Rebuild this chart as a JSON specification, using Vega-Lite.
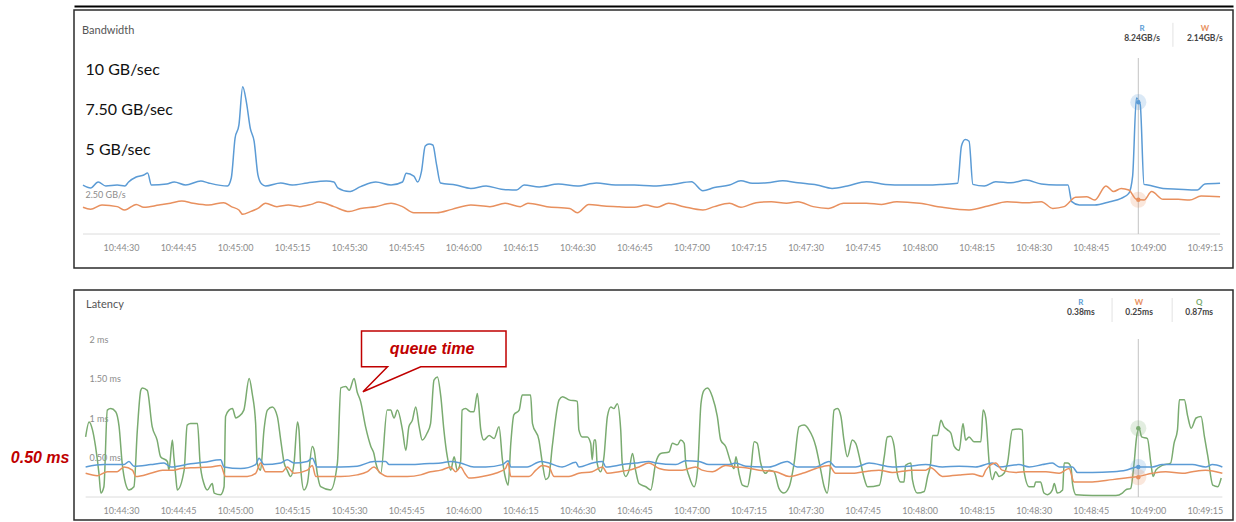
{
"$schema": "https://vega.github.io/schema/vega-lite/v6.json",
"background": "white",
"padding": {"left": 9, "top": 5, "right": 0, "bottom": 0},
"spacing": 20,
"resolve": {"scale": {"color": "independent"}},
"config": {
  "view": {"stroke": "#2b2b2b", "strokeWidth": 1.5},
  "axis": {"grid": false, "domain": false, "ticks": false, "tickSize": 0, "labelFont": "Lato", "labelColor": "#8c8c8c", "labelFontSize": 9, "labelOverlap": false, "labelBound": false}
},
"datasets": {
  "bandwidth": [
    {"t":38660000,"k":"R","v":3.06},{"t":38662000,"k":"R","v":2.88},{"t":38664000,"k":"R","v":3.25},{"t":38666000,"k":"R","v":3.0},
    {"t":38669000,"k":"R","v":3.06},{"t":38671000,"k":"R","v":3.0},{"t":38672000,"k":"R","v":3.25},{"t":38674000,"k":"R","v":3.56},
    {"t":38676000,"k":"R","v":3.69},{"t":38677000,"k":"R","v":3.81},{"t":38678000,"k":"R","v":3.06},{"t":38682000,"k":"R","v":3.12},
    {"t":38684000,"k":"R","v":3.25},{"t":38687000,"k":"R","v":3.06},{"t":38691000,"k":"R","v":3.31},{"t":38693000,"k":"R","v":3.19},
    {"t":38698000,"k":"R","v":3.0},{"t":38699000,"k":"R","v":3.5},{"t":38700000,"k":"R","v":6.0},{"t":38701000,"k":"R","v":6.8},
    {"t":38702000,"k":"R","v":9.2},{"t":38703000,"k":"R","v":8.2},{"t":38704000,"k":"R","v":6.6},{"t":38705000,"k":"R","v":5.8},
    {"t":38706000,"k":"R","v":3.7},{"t":38707000,"k":"R","v":3.12},{"t":38708000,"k":"R","v":3.0},{"t":38712000,"k":"R","v":3.19},
    {"t":38715000,"k":"R","v":3.06},{"t":38719000,"k":"R","v":3.19},{"t":38724000,"k":"R","v":3.31},{"t":38726000,"k":"R","v":3.25},
    {"t":38727000,"k":"R","v":2.88},{"t":38730000,"k":"R","v":2.65},{"t":38733000,"k":"R","v":2.96},{"t":38737000,"k":"R","v":3.25},
    {"t":38741000,"k":"R","v":3.06},{"t":38744000,"k":"R","v":3.25},{"t":38745000,"k":"R","v":3.79},{"t":38747000,"k":"R","v":3.62},
    {"t":38748000,"k":"R","v":3.25},{"t":38749000,"k":"R","v":3.9},{"t":38750000,"k":"R","v":5.5},{"t":38751000,"k":"R","v":5.62},
    {"t":38752000,"k":"R","v":5.56},{"t":38753000,"k":"R","v":4.3},{"t":38754000,"k":"R","v":3.19},{"t":38758000,"k":"R","v":3.06},
    {"t":38762000,"k":"R","v":2.85},{"t":38766000,"k":"R","v":3.0},{"t":38770000,"k":"R","v":2.8},{"t":38774000,"k":"R","v":2.75},
    {"t":38776000,"k":"R","v":3.06},{"t":38780000,"k":"R","v":2.94},{"t":38785000,"k":"R","v":3.12},{"t":38790000,"k":"R","v":3.0},
    {"t":38795000,"k":"R","v":3.19},{"t":38800000,"k":"R","v":3.06},{"t":38805000,"k":"R","v":3.06},{"t":38810000,"k":"R","v":3.0},
    {"t":38815000,"k":"R","v":3.1},{"t":38820000,"k":"R","v":3.27},{"t":38823000,"k":"R","v":2.71},{"t":38826000,"k":"R","v":2.9},
    {"t":38830000,"k":"R","v":3.06},{"t":38833000,"k":"R","v":3.33},{"t":38836000,"k":"R","v":3.17},{"t":38840000,"k":"R","v":3.2},
    {"t":38844000,"k":"R","v":3.33},{"t":38848000,"k":"R","v":3.2},{"t":38853000,"k":"R","v":3.06},{"t":38857000,"k":"R","v":2.85},
    {"t":38861000,"k":"R","v":3.0},{"t":38866000,"k":"R","v":3.27},{"t":38871000,"k":"R","v":3.1},{"t":38876000,"k":"R","v":3.06},
    {"t":38882000,"k":"R","v":3.06},{"t":38886000,"k":"R","v":3.1},{"t":38890000,"k":"R","v":3.17},{"t":38891000,"k":"R","v":5.5},
    {"t":38892000,"k":"R","v":5.9},{"t":38893000,"k":"R","v":5.8},{"t":38894000,"k":"R","v":3.1},{"t":38897000,"k":"R","v":3.0},
    {"t":38900000,"k":"R","v":3.27},{"t":38904000,"k":"R","v":3.2},{"t":38908000,"k":"R","v":3.37},{"t":38912000,"k":"R","v":3.12},
    {"t":38916000,"k":"R","v":3.06},{"t":38919000,"k":"R","v":3.06},{"t":38920000,"k":"R","v":2.02},{"t":38922000,"k":"R","v":1.81},
    {"t":38926000,"k":"R","v":1.81},{"t":38930000,"k":"R","v":2.02},{"t":38933000,"k":"R","v":2.23},{"t":38935000,"k":"R","v":2.54},
    {"t":38936000,"k":"R","v":3.6},{"t":38937000,"k":"R","v":8.5},{"t":38938000,"k":"R","v":8.1},{"t":38939000,"k":"R","v":3.1},
    {"t":38940000,"k":"R","v":3.06},{"t":38944000,"k":"R","v":2.85},{"t":38948000,"k":"R","v":2.8},{"t":38953000,"k":"R","v":2.75},
    {"t":38955000,"k":"R","v":3.12},{"t":38959000,"k":"R","v":3.17},
    {"t":38660000,"k":"W","v":1.67},{"t":38662000,"k":"W","v":1.54},{"t":38665000,"k":"W","v":1.81},{"t":38669000,"k":"W","v":1.71},
    {"t":38671000,"k":"W","v":1.5},{"t":38674000,"k":"W","v":1.85},{"t":38676000,"k":"W","v":1.67},{"t":38680000,"k":"W","v":1.81},
    {"t":38683000,"k":"W","v":1.92},{"t":38686000,"k":"W","v":2.06},{"t":38689000,"k":"W","v":1.92},{"t":38693000,"k":"W","v":1.81},
    {"t":38697000,"k":"W","v":1.96},{"t":38699000,"k":"W","v":1.71},{"t":38701000,"k":"W","v":1.5},{"t":38702000,"k":"W","v":1.23},
    {"t":38704000,"k":"W","v":1.4},{"t":38706000,"k":"W","v":1.6},{"t":38708000,"k":"W","v":1.92},{"t":38711000,"k":"W","v":1.71},
    {"t":38714000,"k":"W","v":1.81},{"t":38717000,"k":"W","v":1.71},{"t":38720000,"k":"W","v":1.85},{"t":38722000,"k":"W","v":2.0},
    {"t":38726000,"k":"W","v":1.71},{"t":38730000,"k":"W","v":1.4},{"t":38733000,"k":"W","v":1.6},{"t":38737000,"k":"W","v":1.71},
    {"t":38741000,"k":"W","v":1.92},{"t":38744000,"k":"W","v":1.71},{"t":38747000,"k":"W","v":1.33},{"t":38753000,"k":"W","v":1.33},
    {"t":38757000,"k":"W","v":1.54},{"t":38762000,"k":"W","v":1.81},{"t":38767000,"k":"W","v":1.71},{"t":38771000,"k":"W","v":1.92},
    {"t":38775000,"k":"W","v":1.71},{"t":38777000,"k":"W","v":1.92},{"t":38782000,"k":"W","v":1.71},{"t":38788000,"k":"W","v":1.6},
    {"t":38790000,"k":"W","v":1.33},{"t":38793000,"k":"W","v":1.85},{"t":38797000,"k":"W","v":1.75},{"t":38801000,"k":"W","v":1.7},
    {"t":38805000,"k":"W","v":1.67},{"t":38808000,"k":"W","v":1.81},{"t":38811000,"k":"W","v":1.67},{"t":38814000,"k":"W","v":1.92},
    {"t":38818000,"k":"W","v":1.71},{"t":38823000,"k":"W","v":1.5},{"t":38826000,"k":"W","v":1.71},{"t":38830000,"k":"W","v":1.92},
    {"t":38833000,"k":"W","v":1.67},{"t":38837000,"k":"W","v":1.96},{"t":38841000,"k":"W","v":2.02},{"t":38845000,"k":"W","v":1.92},
    {"t":38848000,"k":"W","v":2.02},{"t":38852000,"k":"W","v":1.71},{"t":38856000,"k":"W","v":1.6},{"t":38860000,"k":"W","v":1.92},
    {"t":38866000,"k":"W","v":1.92},{"t":38870000,"k":"W","v":1.85},{"t":38874000,"k":"W","v":2.02},{"t":38880000,"k":"W","v":1.92},
    {"t":38886000,"k":"W","v":1.67},{"t":38893000,"k":"W","v":1.5},{"t":38898000,"k":"W","v":1.75},{"t":38903000,"k":"W","v":2.02},
    {"t":38908000,"k":"W","v":1.95},{"t":38912000,"k":"W","v":2.02},{"t":38915000,"k":"W","v":1.6},{"t":38918000,"k":"W","v":1.71},
    {"t":38921000,"k":"W","v":2.29},{"t":38924000,"k":"W","v":2.33},{"t":38926000,"k":"W","v":2.12},{"t":38929000,"k":"W","v":3.0},
    {"t":38931000,"k":"W","v":2.65},{"t":38933000,"k":"W","v":2.85},{"t":38935000,"k":"W","v":2.75},{"t":38937000,"k":"W","v":2.17},
    {"t":38939000,"k":"W","v":2.12},{"t":38941000,"k":"W","v":2.65},{"t":38944000,"k":"W","v":2.17},{"t":38948000,"k":"W","v":2.17},
    {"t":38951000,"k":"W","v":2.12},{"t":38954000,"k":"W","v":2.37},{"t":38959000,"k":"W","v":2.33}
  ],
  "latency": [
    {"t":38660700,"k":"Q","v":0.76},{"t":38661600,"k":"Q","v":0.95},{"t":38662500,"k":"Q","v":0.85},{"t":38663300,"k":"Q","v":0.64},
    {"t":38664200,"k":"Q","v":0.30},{"t":38664700,"k":"Q","v":0.05},{"t":38665500,"k":"Q","v":0.13},{"t":38666400,"k":"Q","v":1.10},
    {"t":38667300,"k":"Q","v":1.12},{"t":38668600,"k":"Q","v":1.08},{"t":38669500,"k":"Q","v":0.89},{"t":38670300,"k":"Q","v":0.43},
    {"t":38671200,"k":"Q","v":0.17},{"t":38672100,"k":"Q","v":0.09},{"t":38673400,"k":"Q","v":0.13},{"t":38674300,"k":"Q","v":0.85},
    {"t":38675200,"k":"Q","v":1.35},{"t":38675600,"k":"Q","v":1.38},{"t":38676900,"k":"Q","v":1.35},{"t":38678200,"k":"Q","v":0.89},
    {"t":38679500,"k":"Q","v":0.72},{"t":38680400,"k":"Q","v":0.51},{"t":38682200,"k":"Q","v":0.45},{"t":38682600,"k":"Q","v":0.34},
    {"t":38683500,"k":"Q","v":0.72},{"t":38683900,"k":"Q","v":0.51},{"t":38684400,"k":"Q","v":0.26},{"t":38684800,"k":"Q","v":0.09},
    {"t":38686600,"k":"Q","v":0.34},{"t":38687400,"k":"Q","v":0.91},{"t":38688300,"k":"Q","v":0.93},{"t":38690100,"k":"Q","v":0.93},
    {"t":38690800,"k":"Q","v":0.43},{"t":38691800,"k":"Q","v":0.17},{"t":38692700,"k":"Q","v":0.09},{"t":38694000,"k":"Q","v":0.17},
    {"t":38694500,"k":"Q","v":0.05},{"t":38696200,"k":"Q","v":0.03},{"t":38697100,"k":"Q","v":0.13},{"t":38697500,"k":"Q","v":1.02},
    {"t":38698400,"k":"Q","v":1.10},{"t":38699300,"k":"Q","v":1.12},{"t":38700200,"k":"Q","v":1.00},{"t":38701000,"k":"Q","v":1.02},
    {"t":38702300,"k":"Q","v":1.10},{"t":38703700,"k":"Q","v":1.50},{"t":38704500,"k":"Q","v":1.31},{"t":38705400,"k":"Q","v":0.93},
    {"t":38705800,"k":"Q","v":0.43},{"t":38706700,"k":"Q","v":0.34},{"t":38707600,"k":"Q","v":0.85},{"t":38708500,"k":"Q","v":1.10},
    {"t":38709800,"k":"Q","v":1.14},{"t":38711100,"k":"Q","v":1.02},{"t":38712000,"k":"Q","v":0.72},{"t":38712900,"k":"Q","v":0.43},
    {"t":38713700,"k":"Q","v":0.34},{"t":38714600,"k":"Q","v":0.26},{"t":38715500,"k":"Q","v":0.43},{"t":38716400,"k":"Q","v":0.95},
    {"t":38716800,"k":"Q","v":0.85},{"t":38717300,"k":"Q","v":0.34},{"t":38718100,"k":"Q","v":0.09},{"t":38719000,"k":"Q","v":0.17},
    {"t":38720300,"k":"Q","v":0.64},{"t":38720800,"k":"Q","v":0.59},{"t":38721600,"k":"Q","v":0.30},{"t":38722500,"k":"Q","v":0.13},
    {"t":38725100,"k":"Q","v":0.09},{"t":38726900,"k":"Q","v":0.43},{"t":38727800,"k":"Q","v":1.38},{"t":38729100,"k":"Q","v":1.40},
    {"t":38730000,"k":"Q","v":1.35},{"t":38731300,"k":"Q","v":1.50},{"t":38732100,"k":"Q","v":1.33},{"t":38733000,"k":"Q","v":1.21},
    {"t":38734300,"k":"Q","v":0.89},{"t":38735700,"k":"Q","v":0.64},{"t":38736500,"k":"Q","v":0.55},{"t":38737000,"k":"Q","v":0.43},
    {"t":38738300,"k":"Q","v":0.30},{"t":38740000,"k":"Q","v":1.10},{"t":38740900,"k":"Q","v":1.10},{"t":38741800,"k":"Q","v":1.00},
    {"t":38742700,"k":"Q","v":1.10},{"t":38744000,"k":"Q","v":0.85},{"t":38744900,"k":"Q","v":0.59},{"t":38745700,"k":"Q","v":0.89},
    {"t":38746600,"k":"Q","v":0.97},{"t":38747500,"k":"Q","v":1.14},{"t":38748400,"k":"Q","v":0.89},{"t":38749200,"k":"Q","v":0.72},
    {"t":38750500,"k":"Q","v":0.81},{"t":38751400,"k":"Q","v":0.93},{"t":38752300,"k":"Q","v":1.48},{"t":38753200,"k":"Q","v":1.52},
    {"t":38754100,"k":"Q","v":1.27},{"t":38754900,"k":"Q","v":0.85},{"t":38755800,"k":"Q","v":0.51},{"t":38756700,"k":"Q","v":0.34},
    {"t":38757600,"k":"Q","v":0.51},{"t":38758400,"k":"Q","v":0.34},{"t":38759300,"k":"Q","v":0.45},{"t":38759700,"k":"Q","v":1.10},
    {"t":38760600,"k":"Q","v":1.12},{"t":38761900,"k":"Q","v":1.08},{"t":38762800,"k":"Q","v":1.08},{"t":38763700,"k":"Q","v":1.31},
    {"t":38764600,"k":"Q","v":0.85},{"t":38765400,"k":"Q","v":0.72},{"t":38766800,"k":"Q","v":0.78},{"t":38768100,"k":"Q","v":0.74},
    {"t":38769400,"k":"Q","v":0.89},{"t":38770300,"k":"Q","v":0.47},{"t":38771200,"k":"Q","v":0.22},{"t":38771800,"k":"Q","v":0.15},
    {"t":38772500,"k":"Q","v":0.68},{"t":38773300,"k":"Q","v":1.04},{"t":38774700,"k":"Q","v":1.10},{"t":38775500,"k":"Q","v":1.29},
    {"t":38777700,"k":"Q","v":1.29},{"t":38778200,"k":"Q","v":0.93},{"t":38779900,"k":"Q","v":0.72},{"t":38780800,"k":"Q","v":0.43},
    {"t":38781700,"k":"Q","v":0.22},{"t":38782500,"k":"Q","v":0.26},{"t":38783400,"k":"Q","v":0.64},{"t":38785200,"k":"Q","v":1.23},
    {"t":38786100,"k":"Q","v":1.27},{"t":38787800,"k":"Q","v":1.23},{"t":38790000,"k":"Q","v":1.21},{"t":38790400,"k":"Q","v":0.85},
    {"t":38791300,"k":"Q","v":0.76},{"t":38792600,"k":"Q","v":0.76},{"t":38793500,"k":"Q","v":0.68},{"t":38793900,"k":"Q","v":0.47},
    {"t":38794400,"k":"Q","v":0.72},{"t":38794800,"k":"Q","v":0.72},{"t":38795200,"k":"Q","v":0.43},{"t":38796100,"k":"Q","v":0.32},
    {"t":38797000,"k":"Q","v":0.51},{"t":38797900,"k":"Q","v":1.02},{"t":38798800,"k":"Q","v":1.14},{"t":38799600,"k":"Q","v":1.12},
    {"t":38800500,"k":"Q","v":1.18},{"t":38801400,"k":"Q","v":0.85},{"t":38801800,"k":"Q","v":0.43},{"t":38802700,"k":"Q","v":0.26},
    {"t":38803600,"k":"Q","v":0.34},{"t":38804500,"k":"Q","v":0.55},{"t":38805300,"k":"Q","v":0.34},{"t":38806200,"k":"Q","v":0.17},
    {"t":38808000,"k":"Q","v":0.13},{"t":38809300,"k":"Q","v":0.09},{"t":38810600,"k":"Q","v":0.43},{"t":38811900,"k":"Q","v":0.55},
    {"t":38814100,"k":"Q","v":0.57},{"t":38815000,"k":"Q","v":0.68},{"t":38816300,"k":"Q","v":0.66},{"t":38817200,"k":"Q","v":0.72},
    {"t":38818100,"k":"Q","v":0.68},{"t":38818500,"k":"Q","v":0.43},{"t":38819400,"k":"Q","v":0.26},{"t":38820700,"k":"Q","v":0.13},
    {"t":38821600,"k":"Q","v":0.34},{"t":38822500,"k":"Q","v":1.18},{"t":38823300,"k":"Q","v":1.35},{"t":38824200,"k":"Q","v":1.38},
    {"t":38825500,"k":"Q","v":1.27},{"t":38826800,"k":"Q","v":1.02},{"t":38827700,"k":"Q","v":0.72},{"t":38829000,"k":"Q","v":0.64},
    {"t":38830400,"k":"Q","v":0.43},{"t":38831200,"k":"Q","v":0.36},{"t":38831700,"k":"Q","v":0.51},{"t":38832500,"k":"Q","v":0.30},
    {"t":38833400,"k":"Q","v":0.15},{"t":38834700,"k":"Q","v":0.13},{"t":38835600,"k":"Q","v":0.34},{"t":38836500,"k":"Q","v":0.70},
    {"t":38837300,"k":"Q","v":0.68},{"t":38838200,"k":"Q","v":0.43},{"t":38839500,"k":"Q","v":0.30},{"t":38840400,"k":"Q","v":0.34},
    {"t":38841700,"k":"Q","v":0.32},{"t":38843000,"k":"Q","v":0.11},{"t":38844300,"k":"Q","v":0.05},{"t":38845700,"k":"Q","v":0.13},
    {"t":38847000,"k":"Q","v":0.43},{"t":38848300,"k":"Q","v":0.89},{"t":38849600,"k":"Q","v":0.91},{"t":38850900,"k":"Q","v":0.85},
    {"t":38852700,"k":"Q","v":0.64},{"t":38854000,"k":"Q","v":0.34},{"t":38854900,"k":"Q","v":0.13},{"t":38855700,"k":"Q","v":0.05},
    {"t":38856600,"k":"Q","v":0.43},{"t":38857500,"k":"Q","v":1.10},{"t":38858400,"k":"Q","v":1.12},{"t":38859300,"k":"Q","v":1.02},
    {"t":38860100,"k":"Q","v":0.72},{"t":38861000,"k":"Q","v":0.51},{"t":38862300,"k":"Q","v":0.72},{"t":38863200,"k":"Q","v":0.68},
    {"t":38864500,"k":"Q","v":0.43},{"t":38865400,"k":"Q","v":0.24},{"t":38866300,"k":"Q","v":0.13},{"t":38869400,"k":"Q","v":0.15},
    {"t":38870700,"k":"Q","v":0.51},{"t":38871500,"k":"Q","v":0.76},{"t":38872400,"k":"Q","v":0.77},{"t":38873300,"k":"Q","v":0.64},
    {"t":38874100,"k":"Q","v":0.30},{"t":38875000,"k":"Q","v":0.19},{"t":38875900,"k":"Q","v":0.19},{"t":38876300,"k":"Q","v":0.40},
    {"t":38877700,"k":"Q","v":0.43},{"t":38878100,"k":"Q","v":0.22},{"t":38879400,"k":"Q","v":0.05},{"t":38881200,"k":"Q","v":0.07},
    {"t":38882100,"k":"Q","v":0.26},{"t":38882900,"k":"Q","v":0.43},{"t":38883400,"k":"Q","v":0.78},{"t":38884700,"k":"Q","v":0.78},
    {"t":38885600,"k":"Q","v":0.97},{"t":38886400,"k":"Q","v":0.89},{"t":38887300,"k":"Q","v":0.85},{"t":38888200,"k":"Q","v":0.81},
    {"t":38889100,"k":"Q","v":0.64},{"t":38890400,"k":"Q","v":0.59},{"t":38891400,"k":"Q","v":0.93},{"t":38892100,"k":"Q","v":0.72},
    {"t":38893000,"k":"Q","v":0.76},{"t":38894300,"k":"Q","v":0.70},{"t":38896100,"k":"Q","v":0.70},{"t":38896700,"k":"Q","v":1.10},
    {"t":38897400,"k":"Q","v":1.00},{"t":38898300,"k":"Q","v":0.43},{"t":38899100,"k":"Q","v":0.22},{"t":38900000,"k":"Q","v":0.32},
    {"t":38900900,"k":"Q","v":0.26},{"t":38902200,"k":"Q","v":0.30},{"t":38903100,"k":"Q","v":0.43},{"t":38904400,"k":"Q","v":0.85},
    {"t":38906100,"k":"Q","v":0.86},{"t":38907000,"k":"Q","v":0.85},{"t":38907400,"k":"Q","v":0.34},{"t":38908800,"k":"Q","v":0.13},
    {"t":38910100,"k":"Q","v":0.13},{"t":38910500,"k":"Q","v":0.19},{"t":38911800,"k":"Q","v":0.19},{"t":38912700,"k":"Q","v":0.05},
    {"t":38913600,"k":"Q","v":0.03},{"t":38914900,"k":"Q","v":0.09},{"t":38915400,"k":"Q","v":0.17},{"t":38916200,"k":"Q","v":0.05},
    {"t":38917600,"k":"Q","v":0.09},{"t":38918000,"k":"Q","v":0.43},{"t":38918900,"k":"Q","v":0.43},{"t":38919800,"k":"Q","v":0.38},
    {"t":38920200,"k":"Q","v":0.17},{"t":38921100,"k":"Q","v":0.03},{"t":38925400,"k":"Q","v":0.02},{"t":38931600,"k":"Q","v":0.02},
    {"t":38933300,"k":"Q","v":0.05},{"t":38934200,"k":"Q","v":0.09},{"t":38935500,"k":"Q","v":0.11},{"t":38936400,"k":"Q","v":0.43},
    {"t":38937000,"k":"Q","v":0.74},{"t":38937700,"k":"Q","v":0.87},{"t":38938400,"k":"Q","v":0.76},{"t":38939900,"k":"Q","v":0.74},
    {"t":38940800,"k":"Q","v":0.43},{"t":38941400,"k":"Q","v":0.26},{"t":38942100,"k":"Q","v":0.34},{"t":38943800,"k":"Q","v":0.40},
    {"t":38946000,"k":"Q","v":0.43},{"t":38946900,"k":"Q","v":0.68},{"t":38947800,"k":"Q","v":0.85},{"t":38948300,"k":"Q","v":1.23},
    {"t":38949600,"k":"Q","v":1.23},{"t":38950500,"k":"Q","v":1.02},{"t":38951400,"k":"Q","v":0.87},{"t":38952700,"k":"Q","v":1.00},
    {"t":38954000,"k":"Q","v":1.02},{"t":38954900,"k":"Q","v":0.76},{"t":38955800,"k":"Q","v":0.51},{"t":38957100,"k":"Q","v":0.15},
    {"t":38958400,"k":"Q","v":0.13},{"t":38959300,"k":"Q","v":0.24},
    {"t":38660700,"k":"R","v":0.38},{"t":38665500,"k":"R","v":0.41},{"t":38670800,"k":"R","v":0.41},{"t":38672100,"k":"R","v":0.45},
    {"t":38673400,"k":"R","v":0.39},{"t":38677800,"k":"R","v":0.41},{"t":38681300,"k":"R","v":0.43},{"t":38683100,"k":"R","v":0.38},
    {"t":38688300,"k":"R","v":0.42},{"t":38691800,"k":"R","v":0.44},{"t":38696200,"k":"R","v":0.47},{"t":38697100,"k":"R","v":0.38},
    {"t":38701500,"k":"R","v":0.36},{"t":38705400,"k":"R","v":0.41},{"t":38706300,"k":"R","v":0.49},{"t":38707600,"k":"R","v":0.41},
    {"t":38712000,"k":"R","v":0.43},{"t":38713700,"k":"R","v":0.47},{"t":38715500,"k":"R","v":0.43},{"t":38719000,"k":"R","v":0.45},
    {"t":38720300,"k":"R","v":0.49},{"t":38721600,"k":"R","v":0.38},{"t":38727800,"k":"R","v":0.38},{"t":38732100,"k":"R","v":0.39},
    {"t":38736500,"k":"R","v":0.45},{"t":38739600,"k":"R","v":0.45},{"t":38740500,"k":"R","v":0.41},{"t":38745300,"k":"R","v":0.41},
    {"t":38749700,"k":"R","v":0.42},{"t":38754100,"k":"R","v":0.43},{"t":38756700,"k":"R","v":0.45},{"t":38759300,"k":"R","v":0.43},
    {"t":38762800,"k":"R","v":0.38},{"t":38765900,"k":"R","v":0.38},{"t":38770300,"k":"R","v":0.41},{"t":38771800,"k":"R","v":0.46},
    {"t":38772500,"k":"R","v":0.38},{"t":38776800,"k":"R","v":0.38},{"t":38780400,"k":"R","v":0.45},{"t":38782500,"k":"R","v":0.43},
    {"t":38786000,"k":"R","v":0.38},{"t":38789600,"k":"R","v":0.44},{"t":38790400,"k":"R","v":0.38},{"t":38793900,"k":"R","v":0.43},
    {"t":38796600,"k":"R","v":0.45},{"t":38797500,"k":"R","v":0.38},{"t":38801800,"k":"R","v":0.41},{"t":38805300,"k":"R","v":0.43},
    {"t":38808800,"k":"R","v":0.45},{"t":38810600,"k":"R","v":0.43},{"t":38815900,"k":"R","v":0.41},{"t":38818500,"k":"R","v":0.46},
    {"t":38822000,"k":"R","v":0.45},{"t":38824600,"k":"R","v":0.41},{"t":38829900,"k":"R","v":0.41},{"t":38831600,"k":"R","v":0.43},
    {"t":38834300,"k":"R","v":0.39},{"t":38840400,"k":"R","v":0.38},{"t":38845200,"k":"R","v":0.45},{"t":38847800,"k":"R","v":0.38},
    {"t":38852700,"k":"R","v":0.38},{"t":38856200,"k":"R","v":0.45},{"t":38857900,"k":"R","v":0.38},{"t":38863200,"k":"R","v":0.38},
    {"t":38866700,"k":"R","v":0.43},{"t":38872800,"k":"R","v":0.38},{"t":38877200,"k":"R","v":0.39},{"t":38881600,"k":"R","v":0.41},
    {"t":38886000,"k":"R","v":0.38},{"t":38890400,"k":"R","v":0.39},{"t":38894700,"k":"R","v":0.38},{"t":38899100,"k":"R","v":0.43},
    {"t":38900900,"k":"R","v":0.38},{"t":38906100,"k":"R","v":0.41},{"t":38908800,"k":"R","v":0.38},{"t":38912300,"k":"R","v":0.41},
    {"t":38914900,"k":"R","v":0.43},{"t":38916700,"k":"R","v":0.38},{"t":38920200,"k":"R","v":0.38},{"t":38921500,"k":"R","v":0.31},
    {"t":38925400,"k":"R","v":0.31},{"t":38930700,"k":"R","v":0.32},{"t":38934200,"k":"R","v":0.34},{"t":38937200,"k":"R","v":0.38},
    {"t":38941200,"k":"R","v":0.38},{"t":38943800,"k":"R","v":0.41},{"t":38947300,"k":"R","v":0.41},{"t":38951700,"k":"R","v":0.41},
    {"t":38955200,"k":"R","v":0.38},{"t":38957000,"k":"R","v":0.41},{"t":38959600,"k":"R","v":0.38},
    {"t":38660700,"k":"W","v":0.30},{"t":38663800,"k":"W","v":0.27},{"t":38666400,"k":"W","v":0.32},{"t":38669000,"k":"W","v":0.32},
    {"t":38670800,"k":"W","v":0.38},{"t":38673000,"k":"W","v":0.34},{"t":38673900,"k":"W","v":0.26},{"t":38677800,"k":"W","v":0.30},
    {"t":38680900,"k":"W","v":0.34},{"t":38683900,"k":"W","v":0.34},{"t":38685700,"k":"W","v":0.36},{"t":38688300,"k":"W","v":0.37},
    {"t":38693600,"k":"W","v":0.38},{"t":38696200,"k":"W","v":0.40},{"t":38697500,"k":"W","v":0.26},{"t":38703200,"k":"W","v":0.26},
    {"t":38705400,"k":"W","v":0.30},{"t":38706700,"k":"W","v":0.43},{"t":38708000,"k":"W","v":0.32},{"t":38712400,"k":"W","v":0.32},
    {"t":38713700,"k":"W","v":0.38},{"t":38715500,"k":"W","v":0.30},{"t":38719000,"k":"W","v":0.34},{"t":38720300,"k":"W","v":0.40},
    {"t":38721200,"k":"W","v":0.26},{"t":38727800,"k":"W","v":0.26},{"t":38732100,"k":"W","v":0.28},{"t":38734800,"k":"W","v":0.32},
    {"t":38736500,"k":"W","v":0.38},{"t":38738300,"k":"W","v":0.30},{"t":38740000,"k":"W","v":0.26},{"t":38745300,"k":"W","v":0.26},
    {"t":38748800,"k":"W","v":0.28},{"t":38751400,"k":"W","v":0.32},{"t":38754100,"k":"W","v":0.34},{"t":38756700,"k":"W","v":0.38},
    {"t":38758000,"k":"W","v":0.32},{"t":38759300,"k":"W","v":0.38},{"t":38760400,"k":"W","v":0.30},{"t":38761500,"k":"W","v":0.24},
    {"t":38765000,"k":"W","v":0.26},{"t":38768500,"k":"W","v":0.30},{"t":38771100,"k":"W","v":0.36},{"t":38771800,"k":"W","v":0.43},
    {"t":38772500,"k":"W","v":0.26},{"t":38777300,"k":"W","v":0.26},{"t":38779100,"k":"W","v":0.34},{"t":38780800,"k":"W","v":0.40},
    {"t":38782500,"k":"W","v":0.38},{"t":38783900,"k":"W","v":0.26},{"t":38787800,"k":"W","v":0.26},{"t":38790400,"k":"W","v":0.30},
    {"t":38793900,"k":"W","v":0.32},{"t":38796600,"k":"W","v":0.38},{"t":38797900,"k":"W","v":0.30},{"t":38801000,"k":"W","v":0.32},
    {"t":38803600,"k":"W","v":0.34},{"t":38806200,"k":"W","v":0.38},{"t":38808800,"k":"W","v":0.43},{"t":38811500,"k":"W","v":0.36},
    {"t":38814100,"k":"W","v":0.34},{"t":38817600,"k":"W","v":0.34},{"t":38821100,"k":"W","v":0.38},{"t":38822800,"k":"W","v":0.34},
    {"t":38825500,"k":"W","v":0.32},{"t":38829000,"k":"W","v":0.40},{"t":38831600,"k":"W","v":0.38},{"t":38834300,"k":"W","v":0.37},
    {"t":38837800,"k":"W","v":0.34},{"t":38842200,"k":"W","v":0.32},{"t":38845700,"k":"W","v":0.26},{"t":38849200,"k":"W","v":0.30},
    {"t":38852700,"k":"W","v":0.36},{"t":38856200,"k":"W","v":0.40},{"t":38857900,"k":"W","v":0.30},{"t":38862300,"k":"W","v":0.30},
    {"t":38866700,"k":"W","v":0.33},{"t":38869300,"k":"W","v":0.34},{"t":38872800,"k":"W","v":0.31},{"t":38878100,"k":"W","v":0.34},
    {"t":38881600,"k":"W","v":0.34},{"t":38882900,"k":"W","v":0.37},{"t":38886000,"k":"W","v":0.26},{"t":38890400,"k":"W","v":0.28},
    {"t":38893900,"k":"W","v":0.29},{"t":38896500,"k":"W","v":0.26},{"t":38897400,"k":"W","v":0.34},{"t":38900000,"k":"W","v":0.43},
    {"t":38901700,"k":"W","v":0.34},{"t":38905300,"k":"W","v":0.31},{"t":38907900,"k":"W","v":0.32},{"t":38913200,"k":"W","v":0.32},
    {"t":38916700,"k":"W","v":0.30},{"t":38919300,"k":"W","v":0.36},{"t":38920600,"k":"W","v":0.19},{"t":38925400,"k":"W","v":0.19},
    {"t":38930700,"k":"W","v":0.22},{"t":38934200,"k":"W","v":0.24},{"t":38937500,"k":"W","v":0.26},{"t":38941200,"k":"W","v":0.30},
    {"t":38944700,"k":"W","v":0.32},{"t":38949100,"k":"W","v":0.30},{"t":38951700,"k":"W","v":0.32},{"t":38955200,"k":"W","v":0.34},
    {"t":38959600,"k":"W","v":0.30}
  ],
  "bwReadout": [
    {"t":38937500,"k":"R","v":8.24,"reading":"8.24GB/s"},
    {"t":38937500,"k":"W","v":2.14,"reading":"2.14GB/s"}
  ],
  "latReadout": [
    {"t":38937500,"k":"R","v":0.38,"reading":"0.38ms"},
    {"t":38937500,"k":"W","v":0.25,"reading":"0.25ms"},
    {"t":38937500,"k":"Q","v":0.87,"reading":"0.87ms"}
  ],
  "notes": [{"label":"queue time"}]
},
"vconcat": [
  {
    "width": 1159, "height": 258,
    "title": {"text": "Bandwidth", "anchor": "start", "frame": "group", "offset": -30, "dx": 8, "font": "Lato", "fontSize": 11, "fontWeight": "normal", "color": "#555555"},
    "resolve": {"axis": {"x": "independent", "y": "independent"}},
    "layer": [
      {
        "data": {"name": "bandwidth"},
        "mark": {"type": "rule", "color": "#dcdcdc", "strokeWidth": 1},
        "encoding": {
          "x": {"aggregate": "min", "field": "t", "type": "temporal", "axis": {"orient": "top", "offset": 4, "domain": true, "domainColor": "#000000", "domainWidth": 2, "labels": false, "title": null}},
          "x2": {"aggregate": "max", "field": "t"},
          "y": {"datum": 0, "type": "quantitative", "axis": null}
        }
      },
      {
        "data": {"name": "bandwidth"},
        "mark": {"type": "line", "interpolate": "monotone", "strokeWidth": 1.5},
        "encoding": {
          "x": {"field": "t", "type": "temporal",
                "scale": {"type": "utc", "domain": [38657641, 38962400]},
                "axis": {"orient": "bottom", "offset": -34, "format": "%H:%M:%S", "labelPadding": 9, "title": null,
                         "values": [38670000,38685000,38700000,38715000,38730000,38745000,38760000,38775000,38790000,38805000,38820000,38835000,38850000,38865000,38880000,38895000,38910000,38925000,38940000,38955000]}},
          "y": {"field": "v", "type": "quantitative",
                "scale": {"domain": [-2.125, 14], "nice": false, "zero": false},
                "axis": {"orient": "left", "values": [2.5, 5, 7.5, 10], "title": null, "labelAlign": "left", "labelPadding": -11,
                         "labelExpr": "datum.value == 2.5 ? '2.50 GB/s' : datum.value == 5 ? '5 GB/sec' : datum.value == 7.5 ? '7.50 GB/sec' : '10 GB/sec'",
                         "labelFontSize": {"condition": {"test": "datum.value == 2.5", "value": 9}, "value": 16},
                         "labelColor": {"condition": {"test": "datum.value == 2.5", "value": "#8c8c8c"}, "value": "#111111"},
                         "labelOffset": {"condition": {"test": "datum.value == 2.5", "value": 0}, "value": -5}}},
          "color": {"field": "k", "type": "nominal", "scale": {"domain": ["R", "W"], "range": ["#5b9bd5", "#e8905e"]}, "legend": null}
        }
      },
      {
        "data": {"name": "bwReadout"},
        "transform": [{"filter": "datum.k == 'R'"}],
        "mark": {"type": "rule", "color": "#c4c4c4", "strokeWidth": 1},
        "encoding": {
          "x": {"field": "t", "type": "temporal", "axis": null},
          "y": {"datum": 0, "type": "quantitative", "axis": null},
          "y2": {"datum": 11}
        }
      },
      {
        "data": {"name": "bwReadout"},
        "mark": {"type": "circle", "size": 260, "opacity": 0.22},
        "encoding": {
          "x": {"field": "t", "type": "temporal", "axis": null},
          "y": {"field": "v", "type": "quantitative", "axis": null},
          "color": {"field": "k", "type": "nominal", "legend": null}
        }
      },
      {
        "data": {"name": "bwReadout"},
        "mark": {"type": "circle", "size": 20, "opacity": 1},
        "encoding": {
          "x": {"field": "t", "type": "temporal", "axis": null},
          "y": {"field": "v", "type": "quantitative", "axis": null},
          "color": {"field": "k", "type": "nominal", "legend": null}
        }
      },
      {
        "data": {"name": "bwReadout"},
        "transform": [{"filter": "datum.k == 'R'"}],
        "layer": [
          {"mark": {"type": "text", "font": "Lato", "fontSize": 8, "fontWeight": "bold"},
           "encoding": {"x": {"datum": 38938500, "type": "temporal", "axis": null}, "y": {"datum": 12.8, "type": "quantitative", "axis": null}, "text": {"field": "k"}, "color": {"field": "k", "type": "nominal", "legend": null}}},
          {"mark": {"type": "text", "font": "Lato", "fontSize": 8.5, "fontWeight": "bold", "color": "#444444"},
           "encoding": {"x": {"datum": 38938500, "type": "temporal", "axis": null}, "y": {"datum": 12.25, "type": "quantitative", "axis": null}, "text": {"field": "reading"}}}
        ]
      },
      {
        "data": {"name": "bwReadout"},
        "transform": [{"filter": "datum.k == 'W'"}],
        "layer": [
          {"mark": {"type": "text", "font": "Lato", "fontSize": 8, "fontWeight": "bold"},
           "encoding": {"x": {"datum": 38955000, "type": "temporal", "axis": null}, "y": {"datum": 12.8, "type": "quantitative", "axis": null}, "text": {"field": "k"}, "color": {"field": "k", "type": "nominal", "legend": null}}},
          {"mark": {"type": "text", "font": "Lato", "fontSize": 8.5, "fontWeight": "bold", "color": "#444444"},
           "encoding": {"x": {"datum": 38955000, "type": "temporal", "axis": null}, "y": {"datum": 12.25, "type": "quantitative", "axis": null}, "text": {"field": "reading"}}},
          {"mark": {"type": "rule", "color": "#e2e2e2", "strokeWidth": 1},
           "encoding": {"x": {"datum": 38946600, "type": "temporal", "axis": null}, "y": {"datum": 11.7, "type": "quantitative", "axis": null}, "y2": {"datum": 13.2}}}
        ]
      }
    ]
  },
  {
    "width": 1159, "height": 230,
    "title": {"text": "Latency", "anchor": "start", "frame": "group", "offset": -20, "dx": 12, "font": "Lato", "fontSize": 11, "fontWeight": "normal", "color": "#555555"},
    "resolve": {"axis": {"x": "independent", "y": "independent"}},
    "layer": [
      {
        "data": {"name": "latency"},
        "mark": {"type": "rule", "color": "#dcdcdc", "strokeWidth": 1},
        "encoding": {
          "x": {"aggregate": "min", "field": "t", "type": "temporal", "axis": null},
          "x2": {"aggregate": "max", "field": "t"},
          "y": {"datum": 0, "type": "quantitative",
                "axis": {"orient": "left", "values": [0.5], "labelExpr": "'0.50 ms'", "title": null, "labelPadding": 5,
                         "labelFont": "Liberation Sans", "labelFontSize": 16, "labelFontStyle": "italic", "labelFontWeight": "bold", "labelColor": "#c00000"}}
        }
      },
      {
        "data": {"name": "latency"},
        "mark": {"type": "line", "interpolate": "monotone", "strokeWidth": 1.5},
        "encoding": {
          "x": {"field": "t", "type": "temporal",
                "scale": {"type": "utc", "domain": [38657641, 38962400]},
                "axis": {"orient": "bottom", "offset": -23, "format": "%H:%M:%S", "labelPadding": 9, "title": null,
                         "values": [38670000,38685000,38700000,38715000,38730000,38745000,38760000,38775000,38790000,38805000,38820000,38835000,38850000,38865000,38880000,38895000,38910000,38925000,38940000,38955000]}},
          "y": {"field": "v", "type": "quantitative",
                "scale": {"domain": [-0.2911, 2.6203], "nice": false, "zero": false},
                "axis": {"orient": "left", "values": [0.5, 1, 1.5, 2], "title": null, "labelAlign": "left", "labelPadding": -15,
                         "labelExpr": "datum.value == 0.5 ? '0.50 ms' : datum.value == 1 ? '1 ms' : datum.value == 1.5 ? '1.50 ms' : '2 ms'"}},
          "color": {"field": "k", "type": "nominal", "scale": {"domain": ["Q", "R", "W"], "range": ["#7aab70", "#5b9bd5", "#e8905e"]}, "legend": null}
        }
      },
      {
        "data": {"name": "notes"},
        "layer": [
          {"mark": {"type": "point", "shape": "M-1,-0.42H1V0.074H-0.18L-0.98,0.42L-0.64,0.074H-1Z", "size": 20880, "filled": true, "fill": "white", "stroke": "#c00000", "strokeWidth": 1.5, "opacity": 1},
           "encoding": {"x": {"datum": 38752240, "type": "temporal", "axis": null}, "y": {"datum": 1.717, "type": "quantitative", "axis": null}}},
          {"mark": {"type": "text", "font": "Liberation Sans", "fontSize": 16, "fontStyle": "italic", "fontWeight": "bold", "color": "#c00000"},
           "encoding": {"x": {"datum": 38751800, "type": "temporal", "axis": null}, "y": {"datum": 1.873, "type": "quantitative", "axis": null}, "text": {"field": "label"}}}
        ]
      },
      {
        "data": {"name": "latReadout"},
        "transform": [{"filter": "datum.k == 'R'"}],
        "mark": {"type": "rule", "color": "#c4c4c4", "strokeWidth": 1},
        "encoding": {
          "x": {"field": "t", "type": "temporal", "axis": null},
          "y": {"datum": 0, "type": "quantitative", "axis": null},
          "y2": {"datum": 2.0}
        }
      },
      {
        "data": {"name": "latReadout"},
        "mark": {"type": "circle", "size": 260, "opacity": 0.22},
        "encoding": {
          "x": {"field": "t", "type": "temporal", "axis": null},
          "y": {"field": "v", "type": "quantitative", "axis": null},
          "color": {"field": "k", "type": "nominal", "legend": null}
        }
      },
      {
        "data": {"name": "latReadout"},
        "mark": {"type": "circle", "size": 20, "opacity": 1},
        "encoding": {
          "x": {"field": "t", "type": "temporal", "axis": null},
          "y": {"field": "v", "type": "quantitative", "axis": null},
          "color": {"field": "k", "type": "nominal", "legend": null}
        }
      },
      {
        "data": {"name": "latReadout"},
        "transform": [{"filter": "datum.k == 'R'"}],
        "layer": [
          {"mark": {"type": "text", "font": "Lato", "fontSize": 8, "fontWeight": "bold"},
           "encoding": {"x": {"datum": 38922400, "type": "temporal", "axis": null}, "y": {"datum": 2.452, "type": "quantitative", "axis": null}, "text": {"field": "k"}, "color": {"field": "k", "type": "nominal", "legend": null}}},
          {"mark": {"type": "text", "font": "Lato", "fontSize": 8.5, "fontWeight": "bold", "color": "#444444"},
           "encoding": {"x": {"datum": 38922400, "type": "temporal", "axis": null}, "y": {"datum": 2.346, "type": "quantitative", "axis": null}, "text": {"field": "reading"}}},
          {"mark": {"type": "rule", "color": "#e2e2e2", "strokeWidth": 1},
           "encoding": {"x": {"datum": 38930600, "type": "temporal", "axis": null}, "y": {"datum": 2.215, "type": "quantitative", "axis": null}, "y2": {"datum": 2.519}}}
        ]
      },
      {
        "data": {"name": "latReadout"},
        "transform": [{"filter": "datum.k == 'W'"}],
        "layer": [
          {"mark": {"type": "text", "font": "Lato", "fontSize": 8, "fontWeight": "bold"},
           "encoding": {"x": {"datum": 38937700, "type": "temporal", "axis": null}, "y": {"datum": 2.452, "type": "quantitative", "axis": null}, "text": {"field": "k"}, "color": {"field": "k", "type": "nominal", "legend": null}}},
          {"mark": {"type": "text", "font": "Lato", "fontSize": 8.5, "fontWeight": "bold", "color": "#444444"},
           "encoding": {"x": {"datum": 38937700, "type": "temporal", "axis": null}, "y": {"datum": 2.346, "type": "quantitative", "axis": null}, "text": {"field": "reading"}}},
          {"mark": {"type": "rule", "color": "#e2e2e2", "strokeWidth": 1},
           "encoding": {"x": {"datum": 38946400, "type": "temporal", "axis": null}, "y": {"datum": 2.215, "type": "quantitative", "axis": null}, "y2": {"datum": 2.519}}}
        ]
      },
      {
        "data": {"name": "latReadout"},
        "transform": [{"filter": "datum.k == 'Q'"}],
        "layer": [
          {"mark": {"type": "text", "font": "Lato", "fontSize": 8, "fontWeight": "bold"},
           "encoding": {"x": {"datum": 38953500, "type": "temporal", "axis": null}, "y": {"datum": 2.452, "type": "quantitative", "axis": null}, "text": {"field": "k"}, "color": {"field": "k", "type": "nominal", "legend": null}}},
          {"mark": {"type": "text", "font": "Lato", "fontSize": 8.5, "fontWeight": "bold", "color": "#444444"},
           "encoding": {"x": {"datum": 38953500, "type": "temporal", "axis": null}, "y": {"datum": 2.346, "type": "quantitative", "axis": null}, "text": {"field": "reading"}}}
        ]
      }
    ]
  }
]
}
